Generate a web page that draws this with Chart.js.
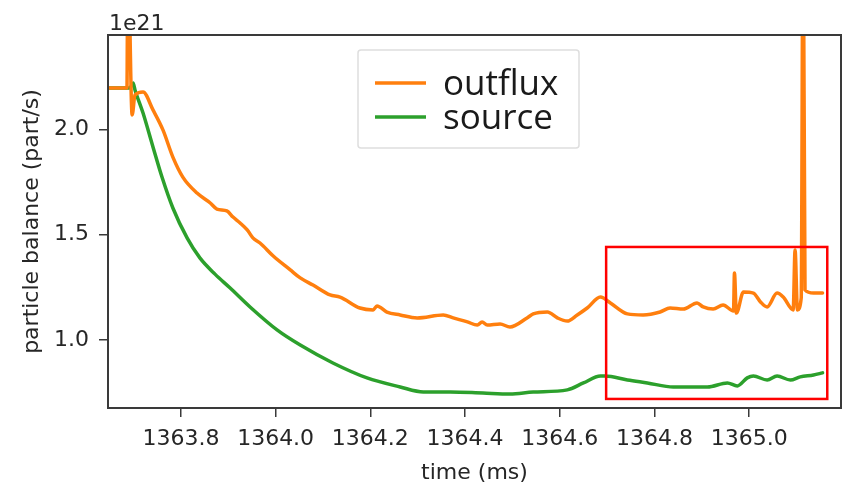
<!DOCTYPE html>
<html>
<head>
<meta charset="utf-8">
<script src="https://cdn.jsdelivr.net/npm/chart.js@4.4.1/dist/chart.umd.min.js"></script>
<style>
  html, body { margin: 0; padding: 0; background: #fff; }
</style>
</head>
<body>
<canvas id="chart" width="846" height="490"></canvas>
<script>
// particle balance, in units of 1e21 part/s
const outfluxTime = [
  1363.646, 1363.686, 1363.688, 1363.697, 1363.703, 1363.720, 1363.741, 1363.762,
  1363.783, 1363.804, 1363.834, 1363.862, 1363.876, 1363.897, 1363.910, 1363.925,
  1363.940, 1363.952, 1363.967, 1363.995, 1364.031, 1364.052, 1364.079, 1364.115,
  1364.136, 1364.178, 1364.206, 1364.214, 1364.235, 1364.263, 1364.299, 1364.354,
  1364.375, 1364.405, 1364.426, 1364.436, 1364.447, 1364.474, 1364.495, 1364.531,
  1364.544, 1364.574, 1364.595, 1364.616, 1364.637, 1364.658, 1364.686, 1364.707,
  1364.743, 1364.776, 1364.812, 1364.833, 1364.861, 1364.890, 1364.903, 1364.924,
  1364.945, 1364.967, 1364.969, 1364.973, 1364.988, 1365.009, 1365.024, 1365.038,
  1365.059, 1365.072, 1365.093, 1365.097, 1365.102, 1365.110, 1365.114, 1365.118,
  1365.136, 1365.155
];
const outfluxValue = [
  2.197, 2.197, 2.850, 2.069, 2.164, 2.178, 2.093, 1.998,
  1.869, 1.774, 1.698, 1.651, 1.622, 1.613, 1.584, 1.556,
  1.523, 1.485, 1.461, 1.399, 1.333, 1.295, 1.261, 1.214,
  1.204, 1.152, 1.143, 1.162, 1.133, 1.119, 1.105, 1.119,
  1.105, 1.086, 1.071, 1.086, 1.071, 1.076, 1.062, 1.105,
  1.124, 1.133, 1.105, 1.090, 1.119, 1.152, 1.204, 1.176,
  1.124, 1.119, 1.133, 1.152, 1.147, 1.176, 1.157, 1.147,
  1.166, 1.138, 1.318, 1.128, 1.228, 1.223, 1.181, 1.157,
  1.223, 1.204, 1.143, 1.428, 1.143, 1.200, 3.100, 1.238,
  1.223, 1.223
];
const sourceTime = [
  1363.646, 1363.692, 1363.699, 1363.703, 1363.720, 1363.741, 1363.760, 1363.783,
  1363.813, 1363.840, 1363.872, 1363.904, 1363.946, 1364.003, 1364.052, 1364.121,
  1364.193, 1364.263, 1364.312, 1364.369, 1364.438, 1364.495, 1364.544, 1364.616,
  1364.650, 1364.686, 1364.696, 1364.743, 1364.785, 1364.840, 1364.912, 1364.954,
  1364.975, 1364.996, 1365.009, 1365.038, 1365.059, 1365.087, 1365.108, 1365.136,
  1365.155
];
const sourceValue = [
  2.197, 2.197, 2.221, 2.188, 2.078, 1.917, 1.774, 1.627,
  1.485, 1.390, 1.313, 1.247, 1.157, 1.048, 0.976, 0.891,
  0.820, 0.777, 0.753, 0.753, 0.748, 0.744, 0.753, 0.763,
  0.796, 0.829, 0.829, 0.810, 0.796, 0.777, 0.777, 0.796,
  0.782, 0.820, 0.829, 0.810, 0.829, 0.810, 0.825, 0.834,
  0.844
];
const xTicks = [1363.8, 1364.0, 1364.2, 1364.4, 1364.6, 1364.8, 1365.0];
const yTicks = [1.0, 1.5, 2.0];
const xLimits = [1363.646, 1365.194];
const yLimits = [0.677, 2.449];
// highlighted window (time, value)
const boxTime = [1364.698, 1365.165];
const boxValue = [0.720, 1.442];

const pts = (xs, ys) => xs.map((x, i) => ({ x, y: ys[i] }));

Chart.defaults.font.family = '"DejaVu Sans", sans-serif';
Chart.defaults.font.size = 22;
Chart.defaults.color = '#262626';

const ink = '#3a3a3a';

const frame = {
  id: 'frame',
  afterDatasetsDraw(chart) {
    const { ctx, chartArea: a, scales: { x, y } } = chart;
    ctx.save();

    // axes box
    ctx.strokeStyle = ink;
    ctx.lineWidth = 2;
    ctx.strokeRect(a.left, a.top, a.right - a.left, a.bottom - a.top);

    // offset text above the y axis
    ctx.fillStyle = '#262626';
    ctx.font = '22px "DejaVu Sans", sans-serif';
    ctx.textBaseline = 'alphabetic';
    ctx.textAlign = 'left';
    ctx.fillText('1e21', a.left + 1, a.top - 5);

    // red box around the late part of the window
    const bx0 = x.getPixelForValue(boxTime[0]);
    const bx1 = x.getPixelForValue(boxTime[1]);
    const by0 = y.getPixelForValue(boxValue[1]);
    const by1 = y.getPixelForValue(boxValue[0]);
    ctx.strokeStyle = '#ff0000';
    ctx.lineWidth = 2.5;
    ctx.strokeRect(bx0, by0, bx1 - bx0, by1 - by0);

    // legend
    const lx = 358, ly = 50, lw = 221, lh = 98;
    ctx.fillStyle = 'rgba(255,255,255,0.85)';
    ctx.strokeStyle = '#dedede';
    ctx.lineWidth = 1.5;
    ctx.beginPath();
    ctx.roundRect(lx, ly, lw, lh, 3);
    ctx.fill();
    ctx.stroke();
    ctx.font = '35px "Open Sans", sans-serif';
    const rows = [95, 129];
    chart.data.datasets.forEach((ds, i) => {
      const base = rows[i];
      ctx.strokeStyle = ds.borderColor;
      ctx.lineWidth = 3.5;
      ctx.beginPath();
      ctx.moveTo(375, base - 12);
      ctx.lineTo(426, base - 12);
      ctx.stroke();
      ctx.fillStyle = '#1a1a1a';
      ctx.fillText(ds.label, 443, base);
    });
    ctx.restore();
  }
};

new Chart(document.getElementById('chart'), {
  type: 'line',
  data: {
    datasets: [
      { label: 'outflux', data: pts(outfluxTime, outfluxValue), borderColor: '#ff7f0e' },
      { label: 'source', data: pts(sourceTime, sourceValue), borderColor: '#2ca02c' }
    ]
  },
  options: {
    responsive: false,
    animation: false,
    layout: { padding: { left: 0, top: 35, right: 5, bottom: 0 } },
    elements: {
      point: { radius: 0 },
      line: { borderWidth: 3.5, cubicInterpolationMode: 'monotone', borderJoinStyle: 'round', borderCapStyle: 'round' }
    },
    plugins: { legend: { display: false }, tooltip: { enabled: false } },
    scales: {
      x: {
        type: 'linear',
        min: xLimits[0],
        max: xLimits[1],
        afterBuildTicks: s => { s.ticks = xTicks.map(v => ({ value: v })); },
        afterFit: s => { s.height = 82; },
        ticks: { callback: v => v.toFixed(1), padding: 9, maxRotation: 0, autoSkip: false },
        grid: { drawOnChartArea: false, tickLength: 9, tickColor: ink, lineWidth: 1.5 },
        border: { display: false },
        title: { display: true, text: 'time (ms)', padding: { top: 0, bottom: 4 } }
      },
      y: {
        min: yLimits[0],
        max: yLimits[1],
        afterBuildTicks: s => { s.ticks = yTicks.map(v => ({ value: v })); },
        afterFit: s => { s.width = 108; },
        ticks: { callback: v => v.toFixed(1), padding: 10 },
        grid: { drawOnChartArea: false, tickLength: 9, tickColor: ink, lineWidth: 1.5 },
        border: { display: false },
        title: { display: true, text: 'particle balance (part/s)', padding: { top: 19, bottom: 0 } }
      }
    }
  },
  plugins: [frame]
});
</script>
</body>
</html>
